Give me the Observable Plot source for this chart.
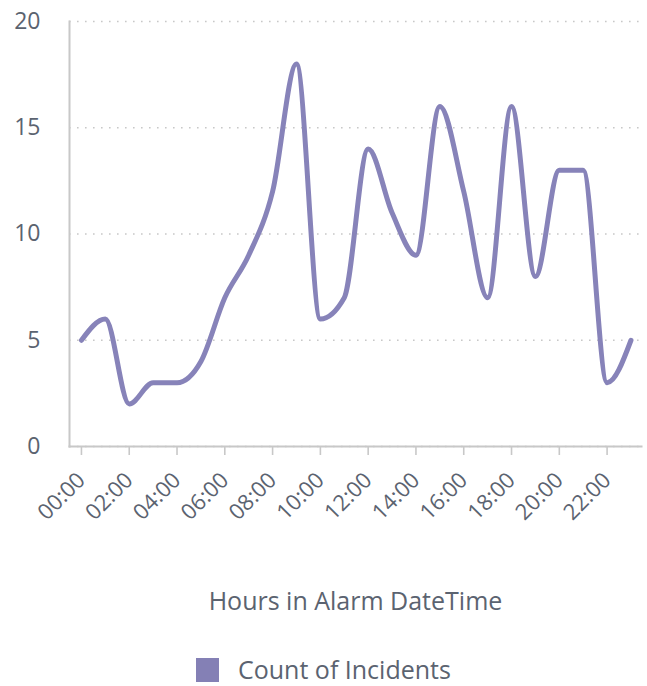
<!DOCTYPE html>
<html>
<head>
<meta charset="utf-8">
<script src="https://cdn.jsdelivr.net/npm/d3@7"></script>
<script src="https://cdn.jsdelivr.net/npm/@observablehq/plot@0.6"></script>
<style>
  body { margin: 0; background: #fff; font-family: "Open Sans", sans-serif; }
  #chart svg { display: block; }
  .legend { position: relative; height: 56px; font-family: "Open Sans", sans-serif; }
  .legend .sw { position: absolute; left: 196px; top: 28px; width: 23px; height: 24px; background: #8480B5; }
  .legend .lb { position: absolute; left: 238px; top: 22px; font-size: 25px; color: #5b6370; line-height: 34px; white-space: nowrap; }
</style>
</head>
<body>
<div id="chart"></div>
<div class="legend"><div class="sw"></div><div class="lb">Count of Incidents</div></div>
<script>
const hours = ["00:00","01:00","02:00","03:00","04:00","05:00","06:00","07:00","08:00","09:00","10:00","11:00",
               "12:00","13:00","14:00","15:00","16:00","17:00","18:00","19:00","20:00","21:00","22:00","23:00"];
const counts = [5, 6, 2, 3, 3, 4, 7, 9, 12, 18, 6, 7, 14, 11, 9, 16, 12, 7, 16, 8, 13, 13, 3, 5];
const yTicks = [0, 5, 10, 15, 20];
const xTickIdx = hours.map((d, i) => i).filter(i => i % 2 === 0);
const xTitle = "Hours in Alarm DateTime";

const data = hours.map((h, i) => ({idx: i, hour: h, count: counts[i]}));
const textColor = "#5b6370";

const chart = Plot.plot({
  width: 647,
  height: 630,
  marginLeft: 69,
  marginRight: 6,
  marginTop: 21,
  marginBottom: 184,
  style: {fontFamily: "Open Sans, sans-serif", color: textColor, background: "#fff"},
  x: {type: "linear", domain: [-0.5, 23.44]},
  y: {domain: [0, 20]},
  marks: [
    Plot.gridY(yTicks, {stroke: "#c8c8c8", strokeOpacity: 1, strokeWidth: 1.6, strokeDasharray: "1.6,6.4"}),
    Plot.axisY({ticks: yTicks, tickSize: 0, tickPadding: 29, fontSize: 23, label: null, fill: textColor}),
    Plot.axisX({ticks: xTickIdx, tickFormat: i => hours[i], tickSize: 9, tickPadding: 21, stroke: "#c8c8c8",
                strokeWidth: 1.6, tickRotate: -45, fontSize: 22, fill: textColor, label: null}),
    Plot.frame({anchor: "left", stroke: "#c8c8c8", strokeWidth: 2}),
    Plot.frame({anchor: "bottom", stroke: "#c8c8c8", strokeWidth: 2}),
    Plot.line(data, {x: "idx", y: "count", stroke: "#8783B9", strokeWidth: 5, curve: "monotone-x",
                     strokeLinecap: "round", strokeLinejoin: "round"}),
    Plot.text([xTitle], {frameAnchor: "bottom", dy: 163, fontSize: 25, fill: textColor, text: d => d, lineAnchor: "bottom"})
  ]
});
document.getElementById("chart").appendChild(chart);
</script>
</body>
</html>
